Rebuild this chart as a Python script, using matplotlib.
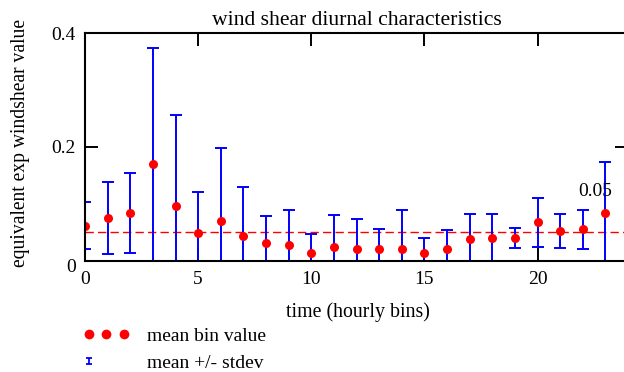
#!/usr/bin/env python3

import matplotlib
matplotlib.use('Agg')
import matplotlib.pyplot as plt
import matplotlib.transforms as mtransforms
from matplotlib.lines import Line2D
from matplotlib.path import Path
import numpy as np

# hourly bins and the values
hours = np.arange(24)
mean_bin = [0.061, 0.075, 0.084, 0.169, 0.096, 0.049, 0.070, 0.043,
            0.031, 0.028, 0.014, 0.023, 0.020, 0.020, 0.020, 0.014,
            0.020, 0.037, 0.040, 0.040, 0.067, 0.052, 0.055, 0.084]
stdev_bin = [0.041, 0.063, 0.070, 0.204, 0.160, 0.072, 0.128, 0.087,
             0.048, 0.060, 0.033, 0.057, 0.053, 0.036, 0.069, 0.025,
             0.033, 0.045, 0.042, 0.018, 0.043, 0.030, 0.034, 0.089]
overall_mean = 0.05
overall_label = '0.05'
xticks = [0, 5, 10, 15, 20]
yticks = [0, 0.2, 0.4]
ytick_labels = ['0', '0.2', '0.4']

plt.rcParams['font.family'] = ['Liberation Serif', 'DejaVu Serif']
plt.rcParams['font.size'] = 14

fig = plt.figure(figsize=(6.24, 3.72), dpi=100)
ax = fig.add_axes([85 / 624, 1 - 260.5 / 372, 543 / 624, 227.5 / 372])

ax.axhline(overall_mean, color='red', lw=1, ls=(0, (6, 3)))
ax.errorbar(hours, mean_bin, yerr=stdev_bin, fmt='none', ecolor='blue',
            elinewidth=1.4, capsize=4, capthick=1.4)
ax.plot(hours, mean_bin, 'o', color='red', ms=6.5, mec='none')
ax.text(22.54, 0.122, overall_label, ha='center', va='center', fontsize=14)

ax.set_xlim(0, 24)
ax.set_ylim(0, 0.4)
ax.set_xticks(xticks)
ax.set_yticks(yticks)
ax.set_yticklabels(ytick_labels)
ax.tick_params(direction='in', length=9.5, width=1.4, top=True, right=True,
               pad=6.5, labelsize=14)
ax.tick_params(axis='x', pad=7.5)
for s in ax.spines.values():
    s.set_linewidth(1.5)

# the "0" on the y axis sits a little below its tick in the original
zero_lbl = ax.yaxis.get_major_ticks()[0].label1
zero_lbl.set_transform(zero_lbl.get_transform() +
                       mtransforms.ScaledTranslation(0, -0.05, fig.dpi_scale_trans))

ax.set_title('wind shear diurnal characteristics', fontsize=15.6, pad=5.8)
ax.set_xlabel('time (hourly bins)', fontsize=14.3)
ax.xaxis.set_label_coords(0.502, -0.183)
ax.set_ylabel('equivalent exp windshear value', fontsize=14.1)
ax.yaxis.set_label_coords(-0.102, 0.518)

# small capped-bar marker for the stdev legend entry
ibar = Path([(-0.5, 0.5), (0.5, 0.5), (0, 0.5), (0, -0.5), (-0.5, -0.5), (0.5, -0.5)],
            [Path.MOVETO, Path.LINETO, Path.MOVETO, Path.LINETO, Path.MOVETO, Path.LINETO])
h_mean = Line2D([], [], ls='none', marker='o', color='red', ms=7, mec='none')
h_std = Line2D([], [], ls='none', marker=ibar, color='blue', ms=5, mew=1.3)
leg = fig.legend([h_mean, h_std], ['mean bin value', 'mean +/- stdev'],
                 loc='upper left', bbox_to_anchor=(83 / 624, 1 - 327 / 372),
                 frameon=False, numpoints=3, handlelength=2.4, handletextpad=0.9,
                 borderpad=0, borderaxespad=0, labelspacing=0.5, fontsize=14)
# only the first position carries the stdev symbol
leg.legend_handles[1].set_markevery([0])

fig.savefig('out.png', dpi=100)
